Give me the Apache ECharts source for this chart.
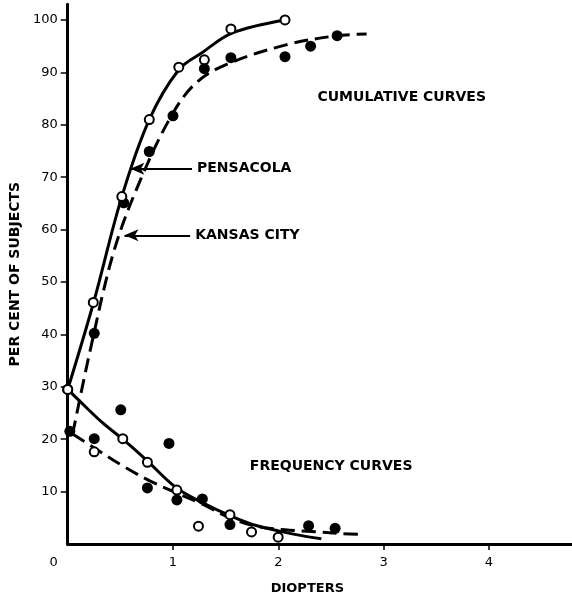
<!DOCTYPE html>
<html>
<head>
<meta charset="utf-8">
<script src="https://cdn.jsdelivr.net/npm/echarts@6/dist/echarts.min.js"></script>
<style>
html,body{margin:0;padding:0;background:#fff;}
#chart{width:572px;height:600px;}
</style>
</head>
<body>
<div id="chart"></div>
<script>
// ---- Data (diopters, per cent of subjects) ----
const pensacolaCumulativePoints = [[0,29.5],[0.243,46.1],[0.514,66.3],[0.775,81],[1.055,91],[1.298,92.4],[1.55,98.3],[2.064,100]];
const kansasCumulativePoints = [[0.252,40.2],[0.532,65.1],[0.775,74.9],[1.0,81.7],[1.298,90.7],[1.55,92.8],[2.064,93],[2.307,95],[2.559,97]];
const pensacolaCumulativeCurve = [[0,29.5],[0.243,45.9],[0.514,66.3],[0.775,81],[1.055,90.5],[1.279,93.8],[1.56,97.5],[2.064,100]];
const kansasCumulativeCurve = [[0.047,21],[0.215,37.1],[0.439,55.9],[0.691,69.5],[0.99,81.9],[1.214,87.9],[1.494,91.4],[2.064,95.2],[2.559,97],[2.839,97.3]];

const pensacolaFrequencyPoints = [[0,29.5],[0.252,17.6],[0.523,20.1],[0.757,15.6],[1.037,10.3],[1.242,3.4],[1.541,5.6],[1.746,2.3],[1.999,1.3]];
const kansasFrequencyPoints = [[0.02,21.5],[0.252,20.1],[0.504,25.6],[0.757,10.7],[0.962,19.2],[1.037,8.4],[1.279,8.6],[1.541,3.7],[2.288,3.5],[2.54,3.0]];
const pensacolaFrequencyCurve = [[0,29.5],[0.112,27.3],[0.327,23.2],[0.523,20],[0.738,16.2],[1.027,10.8],[1.279,7.9],[1.541,5.4],[1.746,3.8],[1.999,2.5],[2.223,1.6],[2.409,1.0]];
const kansasFrequencyCurve = [[0.047,21],[0.271,18.1],[0.523,14.9],[0.775,12.1],[1.027,9.8],[1.279,7.6],[1.541,5.0],[1.784,3.4],[2.064,2.7],[2.316,2.4],[2.596,2.0],[2.811,1.8]];

const yTickValues = [10,20,30,40,50,60,70,80,90,100];
const xTickLabels = [0,1,2,3,4];
const xTickMarks = [1,2,3,4];

// annotation anchors (data coords)
const cityArrows = [
  {name:'PENSACOLA', from:[1.181,71.6], to:[0.595,71.6]},
  {name:'KANSAS CITY', from:[1.163,58.9], to:[0.539,58.9]}
];
const groupLabels = [
  {name:'CUMULATIVE CURVES', value:[2.372,85.3]},
  {name:'FREQUENCY CURVES', value:[1.73,14.9]}
];

const FONT = 'DejaVu Sans';
const chart = echarts.init(document.getElementById('chart'), null, {renderer:'canvas'});

const lineStyleSolid = {color:'#000', width:3, type:'solid'};
const lineStyleDash = {color:'#000', width:3, type:[14,7]};
const openSym = {color:'#fff', borderColor:'#000', borderWidth:2, opacity:1};
const fillSym = {color:'#000', borderColor:'#000', borderWidth:0, opacity:1};

function curve(name, data, ls, extra){
  return Object.assign({
    name, type:'line', data, smooth:0.35, showSymbol:false, symbol:'none',
    lineStyle:ls, z:2, silent:true
  }, extra||{});
}
function pts(name, data, open){
  return {
    name, type:'scatter', data, symbol:'circle',
    symbolSize: open ? 9 : 11,
    itemStyle: open ? openSym : fillSym, z: open ? 4 : 3, silent:true
  };
}

const option = {
  animation:false,
  backgroundColor:'#fff',
  grid:{left:65, right:0, top:4.25, bottom:55, containLabel:false},
  xAxis:{
    type:'value', min:0, max:4.79,
    axisLine:{show:true, onZero:false, lineStyle:{color:'#000', width:3}},
    axisTick:{show:true, customValues:xTickMarks, length:6, lineStyle:{color:'#000', width:1.5}},
    splitLine:{show:false},
    axisLabel:{
      customValues:xTickLabels, margin:12, color:'#000', fontFamily:FONT, fontSize:13,
      formatter:function(v){ return v===0 ? '{z|0}' : String(v); },
      rich:{z:{padding:[0,28,0,0], fontFamily:FONT, fontSize:13, color:'#000'}}
    },
    name:'DIOPTERS', nameLocation:'middle', nameGap:38,
    nameTextStyle:{color:'#000', fontFamily:FONT, fontSize:13, fontWeight:'bold', padding:[0,25,0,0]}
  },
  yAxis:{
    type:'value', min:0, max:103,
    axisLine:{show:true, onZero:false, lineStyle:{color:'#000', width:3}},
    axisTick:{show:true, customValues:yTickValues, length:7, lineStyle:{color:'#000', width:1.5}},
    splitLine:{show:false},
    axisLabel:{customValues:yTickValues, margin:10, color:'#000', fontFamily:FONT, fontSize:13},
    name:'PER CENT OF SUBJECTS', nameLocation:'middle', nameGap:45,
    nameTextStyle:{color:'#000', fontFamily:FONT, fontSize:14, fontWeight:'bold'}
  },
  series:[
    curve('Pensacola cumulative curve', pensacolaCumulativeCurve, lineStyleSolid, {
      markLine:{
        silent:true, symbol:['none','arrow'], symbolSize:[9,14], precision:3,
        lineStyle:{color:'#000', width:2, type:'solid'},
        label:{show:true, position:'start', distance:5, color:'#000', fontFamily:FONT, fontSize:14, fontWeight:'bold',
          formatter:function(p){return p.name;}},
        data: cityArrows.map(a => [{name:a.name, coord:a.from}, {coord:a.to}])
      },
      markPoint:{
        silent:true, symbol:'circle', symbolSize:0,
        label:{show:true, position:'right', distance:0, color:'#000', fontFamily:FONT, fontSize:14, fontWeight:'bold',
          formatter:function(p){return p.name;}},
        data: groupLabels.map(g => ({name:g.name, coord:g.value}))
      }
    }),
    curve('Kansas City cumulative curve', kansasCumulativeCurve, lineStyleDash),
    curve('Pensacola frequency curve', pensacolaFrequencyCurve, lineStyleSolid),
    curve('Kansas City frequency curve', kansasFrequencyCurve, lineStyleDash),
    pts('Kansas City cumulative', kansasCumulativePoints, false),
    pts('Kansas City frequency', kansasFrequencyPoints, false),
    pts('Pensacola cumulative', pensacolaCumulativePoints, true),
    pts('Pensacola frequency', pensacolaFrequencyPoints, true)
  ]
};
chart.setOption(option);
</script>
</body>
</html>
